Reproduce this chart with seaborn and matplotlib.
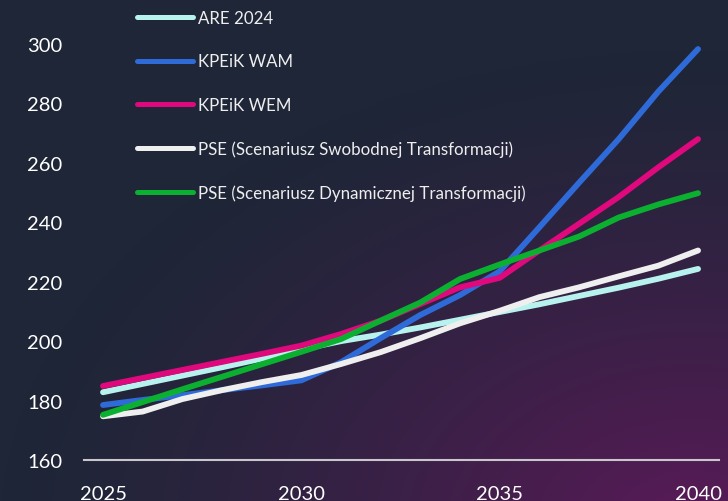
import numpy as np
import pandas as pd
import matplotlib
matplotlib.use("Agg")
import matplotlib.pyplot as plt
import matplotlib.colors as mcolors
import seaborn as sns

years = list(range(2025, 2041))

are_2024 = [182.8, 185.6, 188.4, 191.2, 194.1, 197.2, 200.0, 202.2,
            204.6, 207.2, 209.8, 212.4, 215.2, 218.0, 221.0, 224.3]
kpeik_wam = [178.5, 180.2, 181.8, 183.5, 185.1, 186.8, 192.9, 201.0,
             208.8, 215.5, 223.5, 238.3, 253.3, 268.0, 284.0, 298.3]
kpeik_wem = [184.9, 187.6, 190.3, 193.0, 195.7, 198.5, 202.4, 206.9,
             212.5, 218.1, 221.3, 230.5, 239.5, 248.5, 258.5, 268.0]
pse_swob = [174.7, 176.3, 180.5, 183.5, 186.2, 188.6, 192.3, 196.3,
            201.0, 206.0, 210.2, 214.8, 218.1, 221.8, 225.4, 230.5]
pse_dyn = [175.2, 179.5, 183.8, 188.0, 192.2, 196.4, 200.7, 206.9,
           213.0, 220.9, 225.8, 230.5, 235.2, 241.6, 246.0, 249.8]

series_names = ["ARE 2024", "KPEiK WAM", "KPEiK WEM",
                "PSE (Scenariusz Swobodnej Transformacji)",
                "PSE (Scenariusz Dynamicznej Transformacji)"]
series_values = [are_2024, kpeik_wam, kpeik_wem, pse_swob, pse_dyn]
colors = ["#b8f2ee", "#2f6bd8", "#e0087d", "#efefef", "#0cb030"]

y_ticks = [160, 180, 200, 220, 240, 260, 280, 300]
x_ticks = [2025, 2030, 2035, 2040]


def make_background(fig):
    h, w = 251, 364
    yy, xx = np.mgrid[0:h, 0:w]
    # purple glow towards the bottom right corner
    d = np.sqrt(((xx - w * 0.95) / w) ** 2 + ((yy - h * 1.05) / h) ** 2)
    t = np.clip(1 - d / 0.95, 0, 1) ** 1.3
    base = np.array(mcolors.to_rgb("#1e2637"))
    glow = np.array(mcolors.to_rgb("#5a1a58"))
    img = base[None, None, :] * (1 - t[..., None]) + glow[None, None, :] * t[..., None]
    bg = fig.add_axes([0, 0, 1, 1], zorder=-10)
    bg.imshow(img, aspect="auto", extent=[0, 1, 0, 1], origin="upper")
    bg.axis("off")


def main():
    sns.set_theme(style="white")
    plt.rcParams["font.family"] = ["Lato", "DejaVu Sans"]

    df = pd.DataFrame({"Year": years * len(series_names),
                       "Value": sum(series_values, []),
                       "Series": np.repeat(series_names, len(years))})

    fig = plt.figure(figsize=(7.28, 5.02), dpi=100)
    make_background(fig)

    ax = fig.add_axes([0.1148, 0.0817, 0.8724, 0.8287])
    ax.patch.set_alpha(0)

    sns.lineplot(data=df, x="Year", y="Value", hue="Series", hue_order=series_names,
                 palette=colors, linewidth=4.2, ax=ax, solid_capstyle="round",
                 clip_on=False)

    ax.set_xlim(2024.51, 2040.52)
    ax.set_ylim(160, 300)
    ax.set_xticks(x_ticks)
    ax.set_yticks(y_ticks)
    ax.set_xlabel("")
    ax.set_ylabel("")
    ax.tick_params(axis="both", colors="white", labelsize=14.5, length=0)
    ax.tick_params(axis="y", pad=15)
    ax.tick_params(axis="x", pad=18)
    for s in ["top", "right", "left"]:
        ax.spines[s].set_visible(False)
    ax.spines["bottom"].set_color("#c9c6cc")
    ax.spines["bottom"].set_linewidth(1.5)

    leg = ax.legend(loc="upper left", bbox_to_anchor=(0.188, 0.978),
                    bbox_transform=fig.transFigure, frameon=False,
                    fontsize=12.2, labelspacing=1.62, handlelength=3.3,
                    handletextpad=0.3, borderaxespad=0, borderpad=0)
    for t in leg.get_texts():
        t.set_color("#eeeeee")
    for line in leg.get_lines():
        line.set_linewidth(3.6)
        line.set_solid_capstyle("round")

    fig.savefig("out.png", dpi=100)


if __name__ == "__main__":
    main()
